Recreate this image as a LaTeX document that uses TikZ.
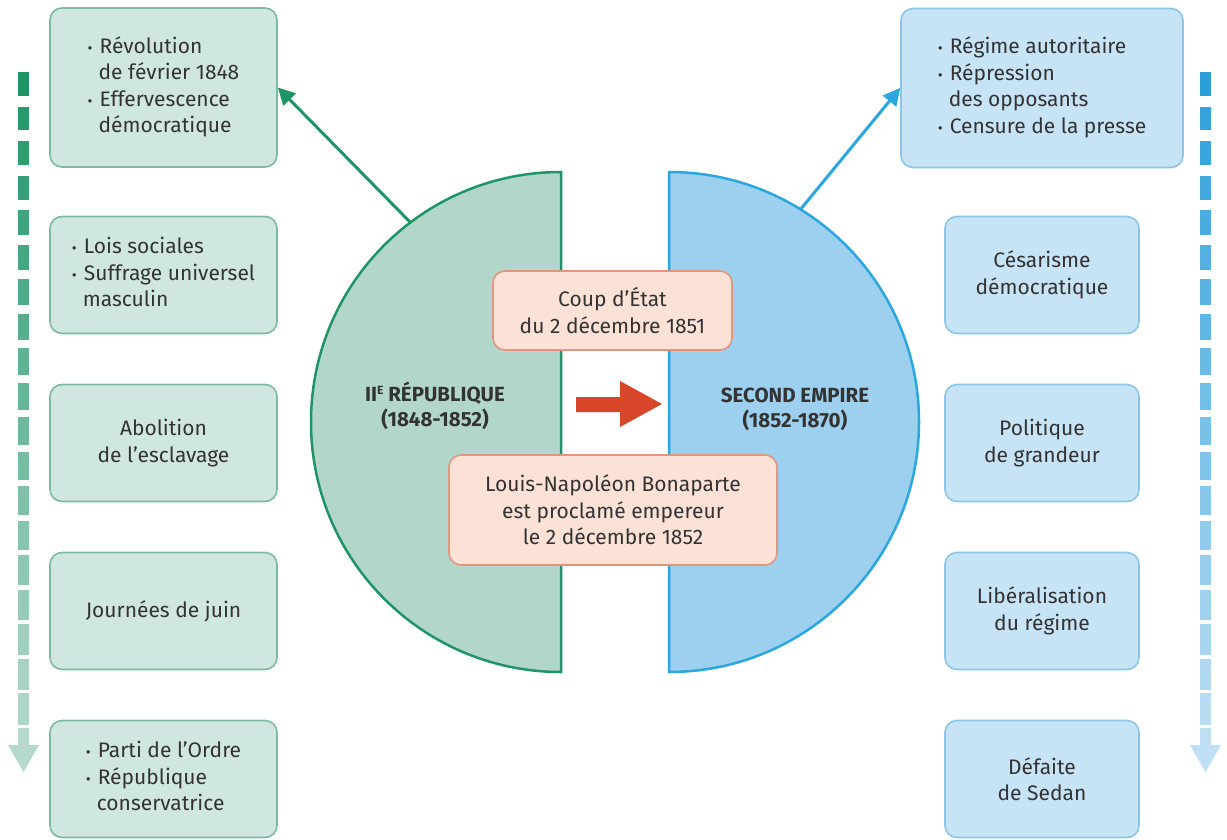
\documentclass[tikz,border=0pt]{standalone}
\usepackage{fontspec}
\setmainfont{Fira Sans}
\usetikzlibrary{arrows.meta}
\definecolor{gline}{HTML}{1F9467}
\definecolor{gfill}{HTML}{B3D6CB}
\definecolor{gbox}{HTML}{D0E7E1}
\definecolor{gboxline}{HTML}{7DBA9F}
\definecolor{gpale}{HTML}{B5DACD}
\definecolor{bline}{HTML}{2AA7DF}
\definecolor{bfill}{HTML}{9DCFEF}
\definecolor{bbox}{HTML}{C7E3F6}
\definecolor{bboxline}{HTML}{8DC5E8}
\definecolor{bpale}{HTML}{BEDFF4}
\definecolor{bdash}{HTML}{2B9FD9}
\definecolor{pfill}{HTML}{FBE1D6}
\definecolor{pline}{HTML}{E29680}
\definecolor{redarr}{HTML}{D9472B}
\definecolor{txtc}{HTML}{333333}
\newcommand{\bl}{\makebox[12pt][l]{\fontsize{15}{15}\selectfont•}}
\newcommand{\ind}{\hspace*{11pt}}
\tikzset{
  txtstyle/.style={text=txtc, font=\fontsize{21}{26.5}\selectfont, align=center, inner sep=0pt},
  greenbox/.style={txtstyle, draw=gboxline, fill=gbox, line width=1.6pt, rounded corners=12pt},
  bluebox/.style={txtstyle, draw=bboxline, fill=bbox, line width=1.6pt, rounded corners=12pt},
  pinkbox/.style={txtstyle, draw=pline, fill=pfill, line width=1.6pt, rounded corners=12pt},
  heading/.style={text=txtc, font=\bfseries\fontsize{20.5}{25}\selectfont, align=center, inner sep=0pt},
  conn/.style={line width=3pt, -{Triangle[length=17pt,width=17pt]}},
}
\begin{document}
\begin{tikzpicture}[x=1pt,y=-1pt]
\useasboundingbox[fill=white] (0,0) rectangle (1227,839);

% dashed timeline arrows
\foreach \i in {0,...,19}{
  \pgfmathsetmacro{\ys}{72+\i*34.5}
  \pgfmathsetmacro{\gp}{11-9*\i/19}
  \pgfmathsetmacro{\ye}{min(\ys+34.5-\gp,745)}
  \pgfmathtruncatemacro{\pc}{100-100*\i/19}
  \fill[gline!\pc!gpale] (18,\ys) rectangle (29,\ye);
  \fill[bdash!\pc!bpale] (1200,\ys) rectangle (1211,\ye);
}
\fill[gpale] (8,745) -- (39,745) -- (23.5,772) -- cycle;
\fill[bpale] (1190,745) -- (1221,745) -- (1205.5,772) -- cycle;

% half discs
\draw[gline, line width=2.5pt, fill=gfill] (561,172) arc[start angle=-90, end angle=-270, radius=250] -- cycle;
\draw[bline, line width=2.5pt, fill=bfill] (669,172) arc[start angle=-90, end angle=90, radius=250] -- cycle;

\node[heading] (rep) at (435,406) {II{\fontsize{12}{12}\selectfont\raisebox{7pt}{E}} RÉPUBLIQUE\\(1848-1852)};
\node[heading] (emp) at (795,409) {SECOND EMPIRE\\(1852-1870)};

% red arrow
\fill[redarr] (576,397) -- (620,397) -- (620,381) -- (662,404) -- (620,427) -- (620,412) -- (576,412) -- cycle;

% pink boxes
\node[pinkbox, minimum width=239pt, minimum height=79pt] (coup) at (612.5,310.5) {Coup d’État\\du 2 décembre 1851};
\node[pinkbox, minimum width=328pt, minimum height=110pt] (proc) at (613,510) {Louis-Napoléon Bonaparte\\est proclamé empereur\\le 2 décembre 1852};

% left boxes
\node[greenbox, minimum width=227pt, minimum height=159pt] (l1) at (163.5,87.5) {\begin{tabular}{@{}l@{}}\bl Révolution\\\ind de février 1848\\\bl Effervescence\\\ind démocratique\end{tabular}};
\node[greenbox, minimum width=227pt, minimum height=117pt] (l2) at (163.5,275) {\begin{tabular}{@{}l@{}}\bl Lois sociales\\\bl Suffrage universel\\\ind masculin\end{tabular}};
\node[greenbox, minimum width=227pt, minimum height=117pt] (l3) at (163.5,443) {Abolition\\de l’esclavage};
\node[greenbox, minimum width=227pt, minimum height=117pt] (l4) at (163.5,611) {Journées de juin};
\node[greenbox, minimum width=227pt, minimum height=117pt] (l5) at (163.5,779) {\begin{tabular}{@{}l@{}}\bl Parti de l’Ordre\\\bl République\\\ind conservatrice\end{tabular}};

% right boxes
\node[bluebox, minimum width=282pt, minimum height=159pt] (r1) at (1042,88) {\begin{tabular}{@{}l@{}}\bl Régime autoritaire\\\bl Répression\\\ind des opposants\\\bl Censure de la presse\end{tabular}};
\node[bluebox, minimum width=194pt, minimum height=117pt] (r2) at (1042,275) {Césarisme\\démocratique};
\node[bluebox, minimum width=194pt, minimum height=117pt] (r3) at (1042,443) {Politique\\de grandeur};
\node[bluebox, minimum width=194pt, minimum height=117pt] (r4) at (1042,611) {Libéralisation\\du régime};
\node[bluebox, minimum width=194pt, minimum height=117pt] (r5) at (1042,779) {Défaite\\de Sedan};

% connectors
\coordinate (gs) at (410,222);
\coordinate (bs) at (800,210);
\draw[conn, gline] (gs) -- (l1.east);
\draw[conn, bline] (bs) -- (r1.west);
\end{tikzpicture}
\end{document}
